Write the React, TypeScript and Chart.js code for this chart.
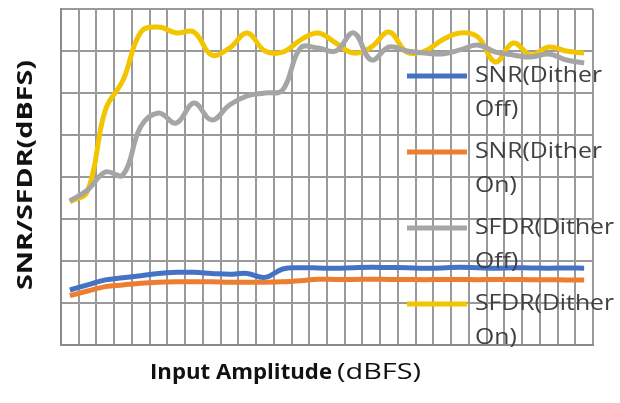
import React, { useEffect, useRef } from "react";
import { Chart, registerables } from "chart.js";

Chart.register(...registerables);

const inputAmplitude = [
  "-29", "-28", "-27", "-26", "-25", "-24", "-23", "-22", "-21", "-20",
  "-19", "-18", "-17", "-16", "-15", "-14", "-13", "-12", "-11", "-10",
  "-9", "-8", "-7", "-6", "-5", "-4", "-3", "-2", "-1", "0",
];

const snrDitherOff = [
  26.2, 28.6, 31.0, 32.0, 33.0, 34.1, 34.6, 34.6, 34.1, 33.7,
  34.1, 32.2, 36.2, 36.8, 36.7, 36.5, 36.8, 37.0, 36.9, 36.8,
  36.6, 36.7, 37.0, 36.8, 36.6, 36.8, 36.7, 36.6, 36.7, 36.6,
];

const snrDitherOn = [
  23.5, 25.7, 27.8, 28.6, 29.4, 29.9, 30.1, 30.1, 30.1, 29.9,
  29.9, 29.9, 30.1, 30.6, 31.3, 31.2, 31.2, 31.3, 31.2, 31.2,
  31.1, 31.2, 31.2, 31.1, 31.2, 31.2, 31.1, 31.1, 31.0, 31.0,
];

const sfdrDitherOff = [
  68.6, 73.8, 82.4, 81.0, 104.0, 110.5, 105.7, 115.2, 107.1, 114.3,
  118.6, 120.0, 121.4, 141.4, 141.4, 140.0, 148.6, 135.7, 141.9, 140.0,
  139.0, 138.6, 140.5, 142.9, 139.5, 138.1, 137.1, 138.6, 135.7, 134.3,
];

const sfdrDitherOn = [
  68.1, 73.3, 111.9, 126.2, 149.0, 151.4, 148.6, 149.0, 138.1, 141.4,
  148.6, 140.0, 139.5, 145.2, 148.6, 143.8, 139.0, 141.9, 149.0, 139.5,
  140.0, 145.2, 148.6, 146.7, 134.8, 143.8, 138.1, 141.9, 140.0, 139.0,
];

const seriesLabels = ["SNR(Dither Off)", "SNR(Dither On)", "SFDR(Dither Off)", "SFDR(Dither On)"];
const seriesColors = ["#4472C4", "#ED7D31", "#A5A5A5", "#F2C500"];

const yTitle = "SNR/SFDR(dBFS)";
const xTitleBold = "Input Amplitude";
const xTitleRegular = "(dBFS)";

const FONT = "'Open Sans', 'Noto Sans', sans-serif";

function drawStretched(ctx: any, text: string, x: number, y: number, sx: number) {
  ctx.save();
  ctx.translate(x, y);
  ctx.scale(sx, 1);
  ctx.fillText(text, 0, 0);
  ctx.restore();
}

const titlesPlugin = {
  id: "customTitles",
  afterDraw(chart: any) {
    const ctx = chart.ctx;
    // y title
    ctx.save();
    ctx.fillStyle = "#111111";
    ctx.font = `bold 22px ${FONT}`;
    ctx.textAlign = "left";
    ctx.textBaseline = "middle";
    const wy = ctx.measureText(yTitle).width;
    const sy = 230 / wy;
    ctx.translate(26, 175);
    ctx.rotate(-Math.PI / 2);
    drawStretched(ctx, yTitle, -115, 0, sy);
    ctx.restore();

    // x title
    ctx.save();
    ctx.fillStyle = "#111111";
    ctx.textBaseline = "alphabetic";
    ctx.textAlign = "left";
    ctx.font = `bold 22px ${FONT}`;
    const wb = ctx.measureText(xTitleBold).width;
    drawStretched(ctx, xTitleBold, 150, 379, 182 / wb);
    ctx.font = `22px ${FONT}`;
    const wr = ctx.measureText(xTitleRegular).width;
    drawStretched(ctx, xTitleRegular, 337, 379, 84 / wr);
    ctx.restore();
  },
};

const legendPlugin = {
  id: "customLegend",
  afterDatasetsDraw(chart: any) {
    const ctx = chart.ctx;
    ctx.save();
    ctx.font = `22px ${FONT}`;
    const sx = 127 / ctx.measureText("SNR(Dither").width;
    chart.data.datasets.forEach((ds: any, i: number) => {
      const y = 76 + 76 * i;
      ctx.strokeStyle = ds.borderColor;
      ctx.lineWidth = 5;
      ctx.lineCap = "butt";
      ctx.beginPath();
      ctx.moveTo(407, y);
      ctx.lineTo(467, y);
      ctx.stroke();
      const parts = String(ds.label).split(" ");
      ctx.fillStyle = "#404040";
      ctx.font = `22px ${FONT}`;
      ctx.textAlign = "left";
      ctx.textBaseline = "middle";
      drawStretched(ctx, parts[0], 475, y, sx);
      drawStretched(ctx, parts.slice(1).join(" "), 475, y + 34, sx);
    });
    ctx.restore();
  },
};

export default function App() {
  const ref = useRef<HTMLCanvasElement | null>(null);

  useEffect(() => {
    if (!ref.current) return;
    const values = [snrDitherOff, snrDitherOn, sfdrDitherOff, sfdrDitherOn];
    const chart = new Chart(ref.current, {
      type: "line",
      data: {
        labels: inputAmplitude,
        datasets: values.map((v, i) => ({
          label: seriesLabels[i],
          data: v,
          borderColor: seriesColors[i],
          backgroundColor: seriesColors[i],
          borderWidth: 5,
          pointRadius: 0,
          tension: 0.4,
          fill: false,
        })),
      },
      options: {
        animation: false,
        responsive: false,
        maintainAspectRatio: false,
        layout: { padding: { left: 61, top: 9, right: 27, bottom: 58 } },
        plugins: {
          legend: { display: false },
          tooltip: { enabled: false },
          title: { display: false },
        },
        scales: {
          x: {
            type: "category",
            offset: true,
            grid: { offset: true, color: "#9a9a9a", lineWidth: 2, drawTicks: false },
            border: { display: true, color: "#8a8a8a", width: 2 },
            ticks: { display: false },
          },
          y: {
            min: 0,
            max: 160,
            ticks: { display: false, stepSize: 20 },
            grid: { color: "#9a9a9a", lineWidth: 2, drawTicks: false },
            border: { display: true, color: "#8a8a8a", width: 2 },
          },
        },
      },
      plugins: [legendPlugin, titlesPlugin],
    });
    return () => chart.destroy();
  }, []);

  return (
    <div style={{ position: "absolute", left: 0, top: 0, width: 620, height: 403, background: "#ffffff" }}>
      <canvas ref={ref} width={620} height={403} style={{ width: 620, height: 403 }} />
    </div>
  );
}
